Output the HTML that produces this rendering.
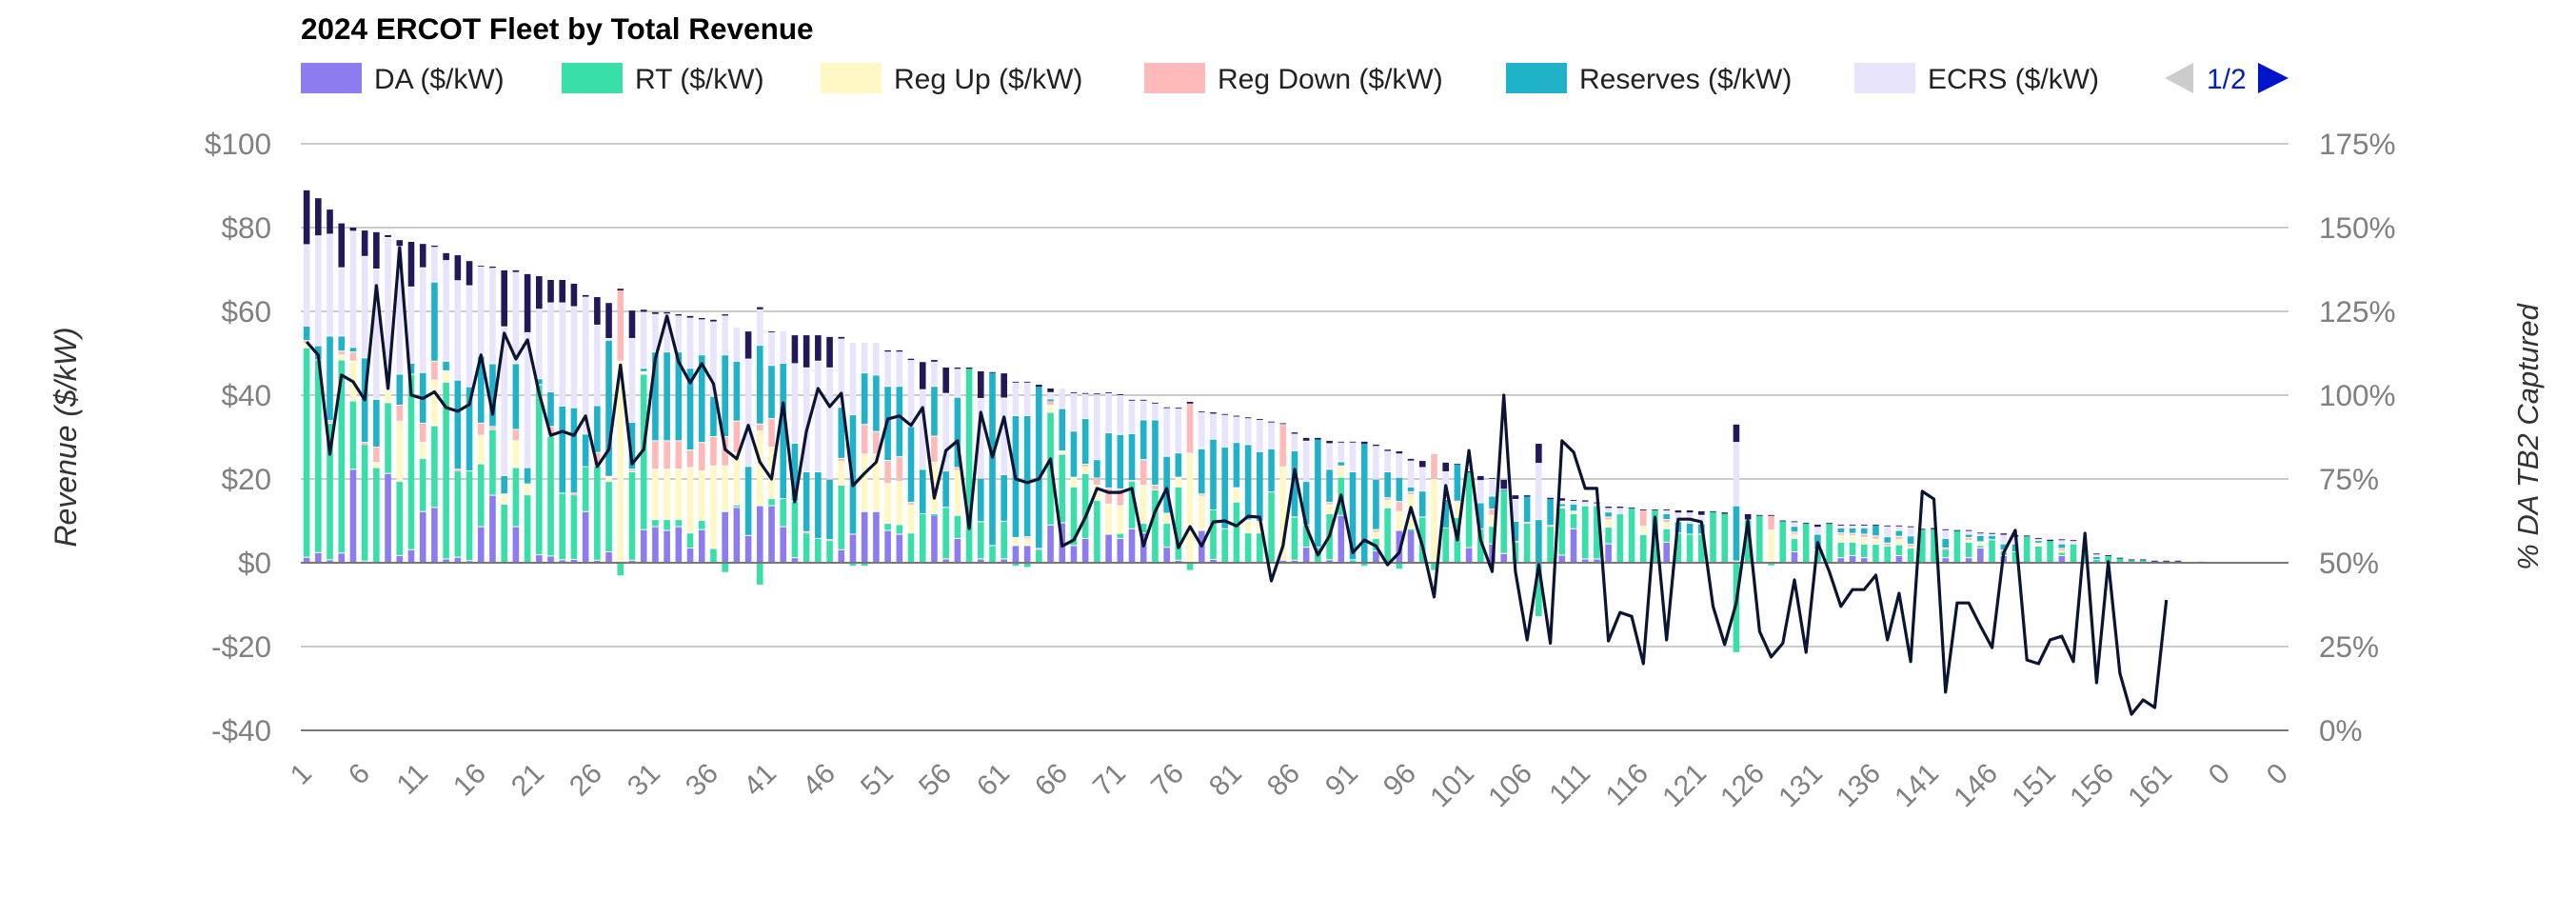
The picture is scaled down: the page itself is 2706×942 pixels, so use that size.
<!DOCTYPE html>
<html><head><meta charset="utf-8"><style>
html,body{margin:0;padding:0;background:#fff;}
svg{display:block;font-family:"Liberation Sans",Arial,sans-serif;}
</style></head><body>
<svg id="c" width="2706" height="942" viewBox="0 0 2706 942" xmlns="http://www.w3.org/2000/svg">
<rect width="2706" height="942" fill="#fff"/>
<text x="316" y="41" font-size="31.5" font-weight="bold" fill="#000">2024 ERCOT Fleet by Total Revenue</text>
<g font-size="30" fill="#222">
<rect x="316" y="66" width="64" height="32" fill="#8c7cf0"/><text x="393" y="93">DA ($/kW)</text>
<rect x="590" y="66" width="64" height="32" fill="#38dfa9"/><text x="667" y="93">RT ($/kW)</text>
<rect x="862" y="66" width="64" height="32" fill="#fff7c4"/><text x="939" y="93">Reg Up ($/kW)</text>
<rect x="1202" y="66" width="64" height="32" fill="#fdbab8"/><text x="1279" y="93">Reg Down ($/kW)</text>
<rect x="1582" y="66" width="64" height="32" fill="#20b2c9"/><text x="1659" y="93">Reserves ($/kW)</text>
<rect x="1948" y="66" width="64" height="32" fill="#e7e4fc"/><text x="2025" y="93">ECRS ($/kW)</text>
</g>
<polygon points="2304,66 2304,98 2274,82" fill="#cccccc"/>
<text x="2318" y="93" font-size="30" fill="#0022bb">1/2</text>
<polygon points="2372,66 2372,98 2404,82" fill="#0015cc"/>
<g stroke="#cccccc" stroke-width="2">
<line x1="316" x2="2404" y1="151" y2="151"/><line x1="316" x2="2404" y1="239" y2="239"/>
<line x1="316" x2="2404" y1="327" y2="327"/><line x1="316" x2="2404" y1="415" y2="415"/>
<line x1="316" x2="2404" y1="503" y2="503"/><line x1="316" x2="2404" y1="679" y2="679"/>
</g>
<g id="bars"></g>
<line x1="316" x2="2404" y1="591" y2="591" stroke="#777" stroke-width="2"/>
<line x1="316" x2="2404" y1="767" y2="767" stroke="#777" stroke-width="2"/>
<path id="ln" fill="none" stroke="#0b1433" stroke-width="3.2" stroke-linejoin="round"/>
<g font-size="31.5" fill="#808080" text-anchor="end">
<text x="285" y="162">$100</text><text x="285" y="250">$80</text><text x="285" y="338">$60</text>
<text x="285" y="426">$40</text><text x="285" y="514">$20</text><text x="285" y="602">$0</text>
<text x="285" y="690">-$20</text><text x="285" y="778">-$40</text>
</g>
<g font-size="31.5" fill="#808080">
<text x="2436" y="162">175%</text><text x="2436" y="250">150%</text><text x="2436" y="338">125%</text>
<text x="2436" y="426">100%</text><text x="2436" y="514">75%</text><text x="2436" y="602">50%</text>
<text x="2436" y="690">25%</text><text x="2436" y="778">0%</text>
</g>
<text transform="translate(80,459) rotate(-90)" text-anchor="middle" font-size="32" font-style="italic" fill="#333">Revenue ($/kW)</text>
<text transform="translate(2666,459) rotate(-90)" text-anchor="middle" font-size="31" font-style="italic" fill="#333">% DA TB2 Captured</text>
<g font-size="30" fill="#808080" text-anchor="end">
<text transform="translate(329,814) rotate(-45)">1</text>
<text transform="translate(390,814) rotate(-45)">6</text>
<text transform="translate(451,814) rotate(-45)">11</text>
<text transform="translate(512,814) rotate(-45)">16</text>
<text transform="translate(573,814) rotate(-45)">21</text>
<text transform="translate(634,814) rotate(-45)">26</text>
<text transform="translate(695,814) rotate(-45)">31</text>
<text transform="translate(756,814) rotate(-45)">36</text>
<text transform="translate(817,814) rotate(-45)">41</text>
<text transform="translate(879,814) rotate(-45)">46</text>
<text transform="translate(940,814) rotate(-45)">51</text>
<text transform="translate(1001,814) rotate(-45)">56</text>
<text transform="translate(1062,814) rotate(-45)">61</text>
<text transform="translate(1123,814) rotate(-45)">66</text>
<text transform="translate(1184,814) rotate(-45)">71</text>
<text transform="translate(1245,814) rotate(-45)">76</text>
<text transform="translate(1306,814) rotate(-45)">81</text>
<text transform="translate(1367,814) rotate(-45)">86</text>
<text transform="translate(1428,814) rotate(-45)">91</text>
<text transform="translate(1489,814) rotate(-45)">96</text>
<text transform="translate(1550,814) rotate(-45)">101</text>
<text transform="translate(1611,814) rotate(-45)">106</text>
<text transform="translate(1672,814) rotate(-45)">111</text>
<text transform="translate(1733,814) rotate(-45)">116</text>
<text transform="translate(1794,814) rotate(-45)">121</text>
<text transform="translate(1855,814) rotate(-45)">126</text>
<text transform="translate(1916,814) rotate(-45)">131</text>
<text transform="translate(1977,814) rotate(-45)">136</text>
<text transform="translate(2038,814) rotate(-45)">141</text>
<text transform="translate(2100,814) rotate(-45)">146</text>
<text transform="translate(2161,814) rotate(-45)">151</text>
<text transform="translate(2222,814) rotate(-45)">156</text>
<text transform="translate(2283,814) rotate(-45)">161</text>
<text transform="translate(2344,814) rotate(-45)">0</text>
<text transform="translate(2405,814) rotate(-45)">0</text>
</g>
</svg>
<script>
var D=[
"1.2,51.2,52.2,52.9,56.4,75.8,88.9","2.3,48.3,48.3,48.3,51.7,77.9,87","0.6,33.2,33.2,33.8,54,78.3,84.3","2.2,48.3,49.5,50.4,54,70.3,81","22.2,38.5,48,50.2,51.3,79,80",
"0.3,28.1,28.1,28.6,48.8,73,79.3","0,22.6,23.8,27.5,38.9,70,78.9","21.2,38.1,41.1,41.1,41.1,77.5,78.2","1.6,19.3,33.7,37.5,44.9,75.4,77","3,44.9,44.9,44.9,47.5,65.7,76.6",
"12.1,24.8,28.6,33.2,45.3,70.3,76.1","13.1,32.6,43.5,48,66.9,75.4,75.7","0.8,43,45.7,45.7,48,72,73.9","1.2,21.8,21.8,22.2,43.5,67.2,73.4","0.4,21.8,21.8,21.8,41.9,66,72",
"8.5,23.5,30.3,33.2,49.2,70.8,70.9","16,31.7,31.7,32.4,47.4,70.4,70.7","0,13.9,16.3,16.3,20.7,56.2,69.8","8.5,22.6,29,31.7,47.4,69.4,69.8","0,16.1,18.7,18.7,22.6,54.8,68.9",
"1.8,42.4,42.4,42.4,43.8,60.4,68.4","1.5,30.1,30.1,32.4,40.7,61.9,67.5","0.6,16.5,16.5,16.5,37.3,61.9,67.5","0.7,16.1,16.1,16.5,36.9,61,66.6","12.1,22.8,22.8,22.8,30.6,63.5,63.9",
"0.5,23,23,26.2,37.4,56.6,63.4","2.5,19.3,20.5,20.5,53,53.4,62","0,0,48,65,65,65,65.4,2.8","0.5,21.6,21.6,22.2,33.4,53.4,60.2","7.8,44.9,45.5,45.5,46.3,59.9,60.4",
"8.5,10.2,22.2,29,50.2,59.4,59.8","7.6,10.2,22.2,29,50.2,59.5,59.8","8.5,10.2,22.2,29,50.2,59,59.3","3.4,7,22.6,26.8,46.3,58.5,58.9","7.8,10,21.8,28.6,49.5,58.1,58.4",
"0,3.3,23,30,39.6,57.6,58","12.1,12.1,23,30,49.5,59,59.3,2","13.1,13.7,26.2,33.7,48,56.1,56.1","6.4,6.4,6.4,6.4,22.9,48.5,55.2","13.5,13.5,31.3,33,51.8,60.5,61,5",
"13.5,15.2,27.5,34.3,47,55,55.2","8.5,15.2,15.2,15.2,47.5,55.2,55.2","1.1,14.6,14.6,14.6,28.4,47.4,54.3","0,7,7,7.3,21.6,46.4,54.3","0,5.7,5.7,5.7,21.6,48,54.3",
"0,5.2,5.2,5.4,19.8,46.4,53.9","3,18.4,24.3,24.8,37,53.5,53.9","6.7,6.7,6.7,6.7,35.2,52.5,52.5,0.5","12.1,12.1,25.8,32.9,45.2,52.5,52.5,0.5","12.1,12.1,25.8,31.2,44.7,52.5,52.5",
"7.6,9.3,18.8,24.3,42,50.4,50.7","6.7,9,19.3,25.2,42,50.4,50.7","0,7,13.9,14.3,32.4,48.4,48.7","0,11.6,11.6,11.6,22.2,41.2,47.9","11.2,11.6,23.9,30.1,42,48,48.4",
"0.8,13.1,13.1,13.1,21.8,40.3,46.6","5.7,11.2,22.2,22.6,39.4,46.3,46.6","0,46.3,46.3,46.3,46.3,46.3,46.6","0.8,9.7,9.7,9.7,20,39.1,45.7","0,4,4,4,45.3,45.3,45.5",
"0.8,9.8,9.8,9.8,20.9,39.2,45.2","4,4,5.9,5.9,35,43,43.2,0.5","4,4,5.9,6.1,35,43,43.2,0.8","0,3.1,3.1,3.3,42,42,42.5","8.9,35.8,37.5,38.6,39,40.5,41.6",
"9.4,25.8,26.6,26.6,36.7,41.6,41.6","4,18,20.3,20.3,31.3,40.5,40.7","5.7,21.2,23,23.4,34.3,40.3,40.5","0,14.8,18.4,20.1,24.5,40.2,40.4","6.7,6.7,13.9,17.7,30.9,40.5,40.7",
"5.7,6.9,13.5,17.5,30.5,40,40.2","8,19.3,19.3,19.5,30.7,38.7,38.9","7,9.3,18.4,24.5,34,38.7,38.9","0,17.3,17.3,18.4,34,38,38.2","3.6,9.3,11.7,11.7,25.3,37,37.1",
"0.5,18,20.3,20.3,26.1,36.8,37","0,0,26,38,38,38,38.4,1.5","7.6,7.6,16,16.3,27.1,36,36.1","0.7,12.5,12.5,12.5,29.4,35.6,35.9","0,8,8,8,27.5,35.3,35.5",
"0,14.4,17.8,17.8,28.6,34.9,35.1","0,7,10.1,10.1,28.1,34.5,34.7","0,7,9.8,9.8,26.4,34.1,34.3","0,16.8,16.8,16.8,27.1,33.5,33.7","0.5,0.5,22.8,32.9,32.9,33.1,33.3",
"0.5,10.8,10.8,10.8,26.6,30.8,31.1","3.6,8.9,8.9,8.9,19.3,28.9,29.8","0,3.6,3.6,3.6,29.4,29.4,29.8","0.6,11.6,13.7,14.3,22.2,28.3,29.1","11.2,20.3,23,23,24,28.7,28.9",
"0,0.6,0.6,0.6,21.6,28.7,28.9","0,0,0,0,28.4,28.4,28.9,0.5","2.7,5.7,7.4,7.8,19.8,27.9,28.2","0,13,14.8,15.4,21.6,26.7,27","7.6,7.6,12.1,14.5,20.3,26.1,26.6,1.2",
"7.6,8,16.1,16.8,18,24.4,24.8","0,10.8,10.8,10.8,17,22.6,24.3","0,0,20,25.9,25.9,25.9,25.9,1.5","0,8.2,8.2,8.2,15,21.6,23.9","0,10.7,14.6,14.6,23.5,23.5,23.6",
"3.5,21.6,21.6,21.6,21.6,21.6,21.8","0,8,8,8,14.2,19.5,20.7","4.4,8.6,11.2,12.7,15.8,20.1,20.2","2.1,17,17,17,17.4,17.4,19.8","0,4.8,4.8,5,9.8,15,16.1",
"0,9.3,9.3,9.5,15.8,15.8,16.1","0,0,0,0,10.2,23.6,28.4,12.5","0,8.6,8.6,8.8,15.2,15.2,15.5","1.7,13,13.3,13.3,14,14.6,15.4","8,11.6,12.2,12.2,13.9,14.8,15",
"0.8,13.5,13.5,13.5,13.5,14.6,14.9","0.8,13.5,13.5,13.5,13.5,14.2,14.4","4.4,8.4,10.1,10.8,12,13.1,13.4","0,11.6,11.6,11.6,11.6,13.1,13.4","0,13,13,13,13,13,13.2",
"0,6.6,8.6,12.5,12.5,12.5,12.7","0,12.5,12.5,12.5,12.5,12.5,12.7","4.8,8,9.7,10.2,11.6,12.5,12.7","0,7,7,7,9.7,12,12.5","0,6.7,6.7,6.7,9.3,12,12.5",
"0,6.7,6.7,6.7,9.2,11.2,12.3","0,12.2,12.2,12.2,12.2,12.2,12.3","0,11.7,11.7,11.7,11.7,11.7,12","0,0,0,0.3,13.5,28.6,33,21.1","0,10.1,10.1,10.1,10.1,10.1,11.6",
"0,11.2,11.2,11.2,11.2,11.2,11.4","0,0,7.7,11.2,11.2,11.2,11.4,0.4","0,9.9,9.9,9.9,9.9,9.9,10.1","2.5,5.7,6.9,7.2,8.6,9.7,9.9","0,9.3,9.3,9.3,9.3,9.3,9.5",
"0,3,3,3,6.7,8.6,9.1","0,9.3,9.3,9.3,9.3,9.3,9.5","1.1,4.8,6.4,7,8.2,8.9,9.1","1.6,4.8,6.3,6.9,8.2,8.9,9.1","1.1,4.3,5.9,6.7,8.2,8.9,9.1",
"0,4.3,5.5,6.3,8.9,8.9,9.1","0,3.9,3.9,4.6,6.1,8.7,8.9","1.6,4.2,5.7,6.2,7.6,8.7,8.9","0,3.4,3.9,4.3,6.3,8.5,8.7","0,8,8,8,8,8,8.1",
"0,8,8,8,8,8,8.3","1.1,3.1,3.1,3.4,5.7,7.8,8","0,7.6,7.6,7.6,7.6,7.6,7.8","1.1,4.8,5.5,5.9,6.7,7.6,7.8","3.4,4,4.9,4.9,6.4,7,7.2",
"0,5.4,5.4,5.4,6.4,6.9,7.1","1.6,2.5,2.5,2.9,4.4,6.7,7","0,2.5,2.5,2.5,4.4,6.2,6.6","0,6.3,6.3,6.3,6.3,6.3,6.5","0,3.9,4.8,4.8,5.2,5.7,5.9",
"0,5.2,5.2,5.2,5.2,5.2,5.5","1.6,2.4,2.9,3.3,4.4,5.4,5.6","0,4.4,4.4,4.4,4.4,5.2,5.4","0,2.7,2.7,2.7,2.7,2.7,2.9","0,0.8,0.9,0.9,1.4,2,2.2",
"0,1.6,1.6,1.6,1.6,1.6,1.8","0,1.1,1.1,1.1,1.1,1.1,1.2","0,0.7,0.7,0.7,0.7,0.7,0.8","0,0.7,0.7,0.7,0.7,0.7,0.8","0.4,0.4,0.4,0.4,0.4,0.4,0.5",
"0.4,0.4,0.4,0.4,0.4,0.4,0.5","0.4,0.4,0.4,0.4,0.4,0.4,0.5","0,0,0,0,0,0,0","0,0,0,0,0,0.5,0.5"
];
var L=[115.9,112,82.4,106,104,98.6,132.7,102,144,100,99,101,96.3,95.2,97.2,112,94.3,118.5,110.8,116.5,100.6,88,89.2,88,93.8,78.7,83.8,109,79.5,83.8,110.8,123.6,110,103.7,109.4,103.4,83.8,81,91,80,75,97.7,68.2,
89.2,102,96.6,100.6,73,76.7,80,92.9,93.8,91,96.3,69.3,83.5,86.4,60.2,94.9,81.5,93.5,75,73.9,75,81,55,56.8,63.6,72.2,71,71,72.2,55,65.3,72.2,54.5,60.8,55,62.2,62.5,61,63.9,63.6,44.6,55,77.8,
60.8,52.3,58,70.2,53,56.8,55,49.4,53,66.5,55,39.8,73,56.8,83.5,56.8,47.4,100,47.4,27,49.4,26,86.4,83,72.2,72.2,26.7,35.2,34,19.9,63.6,27,63,63,62.2,37,25.6,38,62.5,29.5,21.9,26,
44.9,23.3,56,47.4,37,42,42,46.3,27,40.9,20.5,71.3,69,11.4,38,38,31.2,24.7,53,59.7,21,19.9,27,28.1,20.5,58.8,14.2,50.3,17,4.8,9.1,6.8,38.9];
var C=["#8c7cf0","#38dfa9","#fff7c4","#fdbab8","#20b2c9","#e7e4fc","#22185a"];
var W=12.21,BW=6.6,g=document.getElementById("bars"),h="";
function cx(i){return 316+(i+0.5)*W;}
function Y(v){return 591-4.4*v;}
for(var i=0;i<D.length;i++){
 var a=D[i].split(",").map(Number),prev=0,x=(cx(i)-BW/2).toFixed(2);
 for(var k=0;k<7;k++){
  var t=Math.max(a[k],prev);
  if(t>prev){var y1=Y(t),y0=Y(prev),hh=y0-y1;if(hh>2.5)hh-=1;
   h+='<rect x="'+x+'" y="'+y1.toFixed(2)+'" width="'+BW+'" height="'+Math.max(hh,0.8).toFixed(2)+'" fill="'+C[k]+'"/>';}
  prev=t;}
 if(a.length>7&&a[7]>0){h+='<rect x="'+x+'" y="592" width="'+BW+'" height="'+(a[7]*4.4).toFixed(2)+'" fill="'+C[1]+'"/>';}
}
g.innerHTML=h;
var p="";for(var j=0;j<L.length;j++){p+=(j?"L":"M")+cx(j).toFixed(1)+","+(767-L[j]*3.52).toFixed(1);}
document.getElementById("ln").setAttribute("d",p);
</script>
</body></html>
